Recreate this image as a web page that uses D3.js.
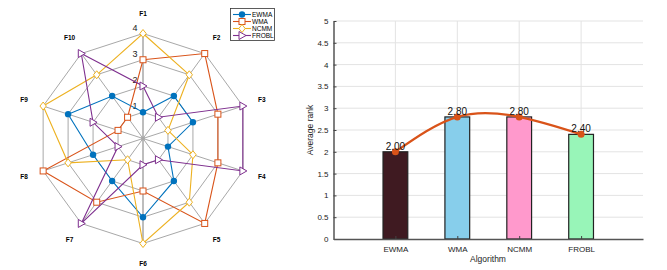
<!DOCTYPE html>
<meta charset="utf-8">
<style>
body { margin: 0; background: #fff; }
svg { font-family: Arial, "Liberation Sans", sans-serif; }
.grid line { stroke: #e3e3e3; }
</style>
<body>
<script src="https://d3js.org/d3.v7.min.js"></script>
<script>
var features = ["F1","F2","F3","F4","F5","F6","F7","F8","F9","F10"];
var algorithms = ["EWMA","WMA","NCMM","FROBL"];
var ewma  = [1,2,2,1,2,3,2,2,3,2];
var wma   = [3,4,3,3,4,2,3,4,1,1];
var ncmm  = [4,3,1,2,3,4,1,3,4,3];
var frobl = [2,1,4,4,1,1,4,1,2,4];
var levels = [1,2,3,4];
var avgRank = [2.00,2.80,2.80,2.40];
var barColors = ["#3f1a21","#87ceeb","#ff99cc","#98f5b8"];
var rankTicks = [0,0.5,1,1.5,2,2.5,3,3.5,4,4.5,5];

var seriesColors = ["#0072bd","#d95319","#edb120","#7e2f8e"];
var series = [ewma, wma, ncmm, frobl];

var svg = d3.select("body").append("svg")
    .attr("width", 667)
    .attr("height", 270);

// ---------- radar ----------
var cx = 143, cy = 138.5;
var r = d3.scaleLinear().domain([0, 4]).range([0, 105]);
var angle = function(i) { return i * 2 * Math.PI / features.length; };
var pt = function(i, v) {
  return [cx + r(v) * Math.sin(angle(i)), cy - r(v) * Math.cos(angle(i))];
};

var radar = svg.append("g");

levels.forEach(function(l) {
  radar.append("polygon")
    .attr("points", features.map(function(f, i) { return pt(i, l).join(","); }).join(" "))
    .attr("fill", "none")
    .attr("stroke", "#a8a8a8")
    .attr("stroke-width", 1);
});

features.forEach(function(f, i) {
  var p = pt(i, 4);
  radar.append("line")
    .attr("x1", cx).attr("y1", cy)
    .attr("x2", p[0]).attr("y2", p[1])
    .attr("stroke", i % 5 == 0 ? "#bdbdbd" : "#a8a8a8")
    .attr("stroke-width", i % 5 == 0 ? 2 : 1);
  var q = [cx + 125 * Math.sin(angle(i)), cy - 125 * Math.cos(angle(i))];
  radar.append("text")
    .attr("x", q[0]).attr("y", q[1])
    .attr("text-anchor", "middle")
    .attr("dy", "0.35em")
    .attr("font-size", 6.5)
    .attr("font-weight", "bold")
    .text(f);
});

radar.append("circle").attr("cx", cx).attr("cy", cy).attr("r", 2).attr("fill", "#a8a8a8");

levels.forEach(function(l) {
  radar.append("text")
    .attr("x", cx - 8)
    .attr("y", cy - r(l) - 3)
    .attr("text-anchor", "middle")
    .attr("font-size", 9)
    .attr("fill", "#222")
    .text(l);
});

function marker(g, k, x, y) {
  var c = seriesColors[k];
  if (k == 0) {
    g.append("circle").attr("cx", x).attr("cy", y).attr("r", 3.2).attr("fill", c);
  } else if (k == 1) {
    g.append("rect").attr("x", x - 3).attr("y", y - 3).attr("width", 6).attr("height", 6)
      .attr("fill", "#fff").attr("stroke", c).attr("stroke-width", 1);
  } else if (k == 2) {
    g.append("path").attr("d", "M" + x + "," + (y - 4) + "L" + (x + 3.2) + "," + y + "L" + x + "," + (y + 4) + "L" + (x - 3.2) + "," + y + "Z")
      .attr("fill", "#fff").attr("stroke", c).attr("stroke-width", 1);
  } else {
    g.append("path").attr("d", "M" + (x + 4) + "," + y + "L" + (x - 3) + "," + (y - 4) + "L" + (x - 3) + "," + (y + 4) + "Z")
      .attr("fill", "#fff").attr("stroke", c).attr("stroke-width", 1);
  }
}

var line = d3.line().curve(d3.curveLinearClosed);
series.forEach(function(s, k) {
  var g = radar.append("g");
  var pts = s.map(function(v, i) { return pt(i, v); });
  g.append("path").attr("d", line(pts))
    .attr("fill", "none").attr("stroke", seriesColors[k]).attr("stroke-width", 1.1);
  pts.forEach(function(p) { marker(g, k, p[0], p[1]); });
});

// legend
var lg = svg.append("g");
lg.append("rect").attr("x", 230.5).attr("y", 8.5).attr("width", 44).attr("height", 32)
  .attr("fill", "#fff").attr("stroke", "#333").attr("stroke-width", 0.8);
algorithms.forEach(function(a, k) {
  var y = 14.5 + k * 7;
  lg.append("line").attr("x1", 233).attr("x2", 251).attr("y1", y).attr("y2", y)
    .attr("stroke", seriesColors[k]).attr("stroke-width", 1.1);
  marker(lg, k, 242, y);
  lg.append("text").attr("x", 252).attr("y", y).attr("dy", "0.35em")
    .attr("font-size", 6.5).text(a);
});

// ---------- bar chart ----------
var margin = {left: 333.5, top: 21, right: 643, bottom: 239};
var x = d3.scaleLinear().domain([0, 5]).range([margin.left, margin.right]);
var y = d3.scaleLinear().domain([0, 5]).range([margin.bottom, margin.top]);

var bars = svg.append("g");

bars.append("g").attr("class", "grid")
  .selectAll("line").data(rankTicks.slice(1)).enter().append("line")
  .attr("x1", margin.left).attr("x2", margin.right)
  .attr("y1", function(d) { return y(d); }).attr("y2", function(d) { return y(d); });

bars.append("g").attr("class", "grid")
  .selectAll("line").data(d3.range(1, algorithms.length + 1)).enter().append("line")
  .attr("y1", margin.top).attr("y2", margin.bottom)
  .attr("x1", function(d) { return x(d); }).attr("x2", function(d) { return x(d); });

bars.selectAll(".bar").data(avgRank).enter().append("rect")
  .attr("class", "bar")
  .attr("x", function(d, i) { return x(i + 1 - 0.2); })
  .attr("width", x(0.4) - x(0))
  .attr("y", function(d) { return y(d); })
  .attr("height", function(d) { return y(0) - y(d); })
  .attr("fill", function(d, i) { return barColors[i]; })
  .attr("stroke", "#222")
  .attr("stroke-width", 1.2);

// y axis
var yAxis = bars.append("g")
  .attr("transform", "translate(" + margin.left + ",0)")
  .call(d3.axisLeft(y).tickValues(rankTicks).tickFormat(d3.format("~g"))
    .tickSizeInner(-3).tickSizeOuter(0).tickPadding(5));
yAxis.select(".domain").attr("stroke", "#555").attr("stroke-width", 1.5);
yAxis.selectAll(".tick line").attr("stroke", "#444");
yAxis.selectAll("text").attr("font-size", 8).attr("fill", "#222").attr("font-family", "Arial, 'Liberation Sans', sans-serif");

// x axis
var xAxis = bars.append("g")
  .attr("transform", "translate(0," + margin.bottom + ")")
  .call(d3.axisBottom(x).tickValues(d3.range(1, algorithms.length + 1))
    .tickFormat(function(d) { return algorithms[d - 1]; })
    .tickSizeInner(-3).tickSizeOuter(0).tickPadding(7));
xAxis.select(".domain").attr("stroke", "#555").attr("stroke-width", 1.5);
xAxis.selectAll(".tick line").attr("stroke", "#444");
xAxis.selectAll("text").attr("font-size", 8).attr("fill", "#222").attr("font-family", "Arial, 'Liberation Sans', sans-serif");

// trend curve
var curve = d3.line()
  .x(function(d, i) { return x(i + 1); })
  .y(function(d) { return y(d); })
  .curve(d3.curveNatural);
bars.append("path").datum(avgRank).attr("d", curve)
  .attr("fill", "none").attr("stroke", "#d95319").attr("stroke-width", 2.2);
bars.selectAll(".dot").data(avgRank).enter().append("circle")
  .attr("cx", function(d, i) { return x(i + 1); })
  .attr("cy", function(d) { return y(d); })
  .attr("r", 3.5).attr("fill", "#d95319");

bars.selectAll(".val").data(avgRank).enter().append("text")
  .attr("x", function(d, i) { return x(i + 1); })
  .attr("y", function(d) { return y(d) - 2; })
  .attr("text-anchor", "middle")
  .attr("font-size", 10)
  .attr("fill", "#111")
  .text(function(d) { return d.toFixed(2); });

bars.append("text")
  .attr("transform", "translate(313," + ((margin.top + margin.bottom) / 2) + ") rotate(-90)")
  .attr("text-anchor", "middle")
  .attr("font-size", 8.5)
  .attr("fill", "#222")
  .text("Average rank");

bars.append("text")
  .attr("x", 488).attr("y", 262)
  .attr("text-anchor", "middle")
  .attr("font-size", 8.5)
  .attr("fill", "#222")
  .text("Algorithm");
</script>
</body>
